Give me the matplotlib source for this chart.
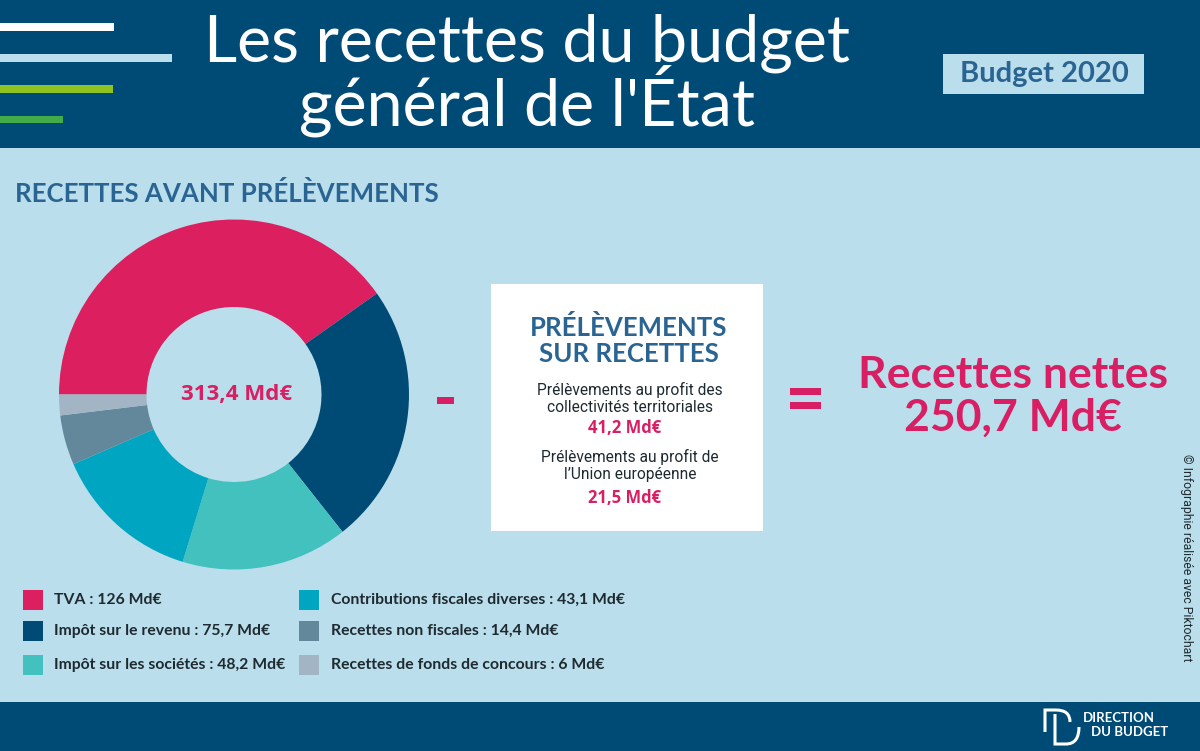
import matplotlib
matplotlib.use("Agg")
import matplotlib.pyplot as plt
from matplotlib.patches import Rectangle, PathPatch
from matplotlib.path import Path

categories = ["TVA", "Impôt sur le revenu", "Impôt sur les sociétés",
              "Contributions fiscales diverses", "Recettes non fiscales",
              "Recettes de fonds de concours"]
values = [126, 75.7, 48.2, 43.1, 14.4, 6]
value_labels = ["126", "75,7", "48,2", "43,1", "14,4", "6"]
colors = ["#DC1F5F", "#004B75", "#42C1BE", "#00A5C1", "#63879B", "#A3B4C4"]

W, H = 1200, 751
NAVY = "#004B75"; LIGHT = "#BADEEB"; PINK = "#D91F63"; BLUE = "#2A6493"; DARK = "#1E2A30"

plt.rcParams['font.family'] = ['Lato', 'DejaVu Sans']
fig = plt.figure(figsize=(12, 7.51), dpi=100, facecolor=LIGHT)
bg = fig.add_axes([0, 0, 1, 1])
bg.set_xlim(0, W); bg.set_ylim(H, 0); bg.axis("off")

def rect(x, y, w, h, c, z=1):
    bg.add_patch(Rectangle((x, y), w, h, facecolor=c, edgecolor="none", zorder=z))

rect(0, 0, W, 148, NAVY)
rect(0, 702, W, 49, NAVY)
rect(0, 23, 114, 8, "#FFFFFF")
rect(0, 54, 172, 8, "#BADEEB")
rect(0, 85, 113, 8, "#8FC31F")
rect(0, 116, 63, 7, "#43AC4A")
rect(943, 54, 201, 40, LIGHT)
rect(491, 284, 272, 247, "#FFFFFF")

def t(x, y, s, size, c=DARK, weight="normal", ha="center", family=None, **k):
    bg.text(x, y, s, fontsize=size, color=c, fontweight=weight, ha=ha, va="center",
            family=family or ['Lato', 'DejaVu Sans'], zorder=5, **k)

t(527, 43, "Les recettes du budget", 46.5, "#FFFFFF")
t(527, 101, "général de l'État", 46.5, "#FFFFFF")
t(1044, 74, "Budget 2020", 21, BLUE, "bold")
t(15, 193, "RECETTES AVANT PRÉLÈVEMENTS", 18.6, BLUE, "bold", ha="left")

# donut
cx, cy, R = 234, 394.5, 175
pie_ax = fig.add_axes([(cx - R) / W, 1 - (cy + R) / H, 2 * R / W, 2 * R / H])
pie_ax.pie(values, colors=colors, startangle=180, counterclock=False, radius=1,
           wedgeprops=dict(width=0.5, edgecolor="none"))
pie_ax.set_xlim(-1, 1); pie_ax.set_ylim(-1, 1); pie_ax.set_aspect("auto")
pie_ax.patch.set_alpha(0)
pie_ax.text(0.015, 0, "313,4 Md€", fontsize=16, color=PINK, fontweight="bold",
            ha="center", va="center", family=['Open Sans', 'DejaVu Sans'])

t(445, 399, "-", 1, PINK)
rect(437, 397, 17, 7, PINK)
rect(790, 388, 31, 7, PINK, 3)
rect(790, 402, 31, 7, PINK, 3)

t(629, 328, "PRÉLÈVEMENTS", 18.5, BLUE, "bold")
t(629, 354, "SUR RECETTES", 18.5, BLUE, "bold")
RB = ['Roboto', 'DejaVu Sans']
t(630, 390, "Prélèvements au profit des", 11.2, DARK, family=RB)
t(630, 407, "collectivités territoriales", 11.2, DARK, family=RB)
t(625, 428, "41,2 Md€", 12, PINK, "bold", family=['Open Sans', 'DejaVu Sans'])
t(630, 457, "Prélèvements au profit de", 11.2, DARK, family=RB)
t(630, 475, "l’Union européenne", 11.2, DARK, family=RB)
t(625, 498, "21,5 Md€", 12, PINK, "bold", family=['Open Sans', 'DejaVu Sans'])

t(1013, 375, "Recettes nettes", 32, PINK, "bold" )
t(1013, 418, "250,7 Md€", 32, PINK, "bold")

t(1186, 558, "© Infographie réalisée avec Piktochart", 8.8, DARK, family=RB, rotation=270)

# legend
pos = [(23, 590), (23, 621), (23, 655), (299, 590), (299, 621), (299, 655)]
for (x, y), cat, lab, col in zip(pos, categories, value_labels, colors):
    rect(x, y, 20, 20, col, 3)
    t(x + (31 if x < 100 else 32), y + 10, f"{cat} : {lab} Md€", 11.3, DARK, "bold", ha="left")

# logo
logo = Path([(1045, 732), (1045, 710), (1056, 710), (1070, 710), (1070, 722)],
            [Path.MOVETO, Path.LINETO, Path.LINETO, Path.CURVE3, Path.CURVE3])
logo2 = Path([(1055, 714), (1055, 744), (1066, 744), (1079, 744), (1079, 727)],
             [Path.MOVETO, Path.LINETO, Path.LINETO, Path.CURVE3, Path.CURVE3])
for p in (logo, logo2):
    bg.add_patch(PathPatch(p, facecolor="none", edgecolor="#FFFFFF", linewidth=2.2, zorder=5))
t(1083, 718, "DIRECTION", 9.5, "#FFFFFF", "bold", ha="left")
t(1091, 732, "DU BUDGET", 9.5, "#FFFFFF", "bold", ha="left")

fig.savefig("out.png", dpi=100, facecolor=LIGHT)
